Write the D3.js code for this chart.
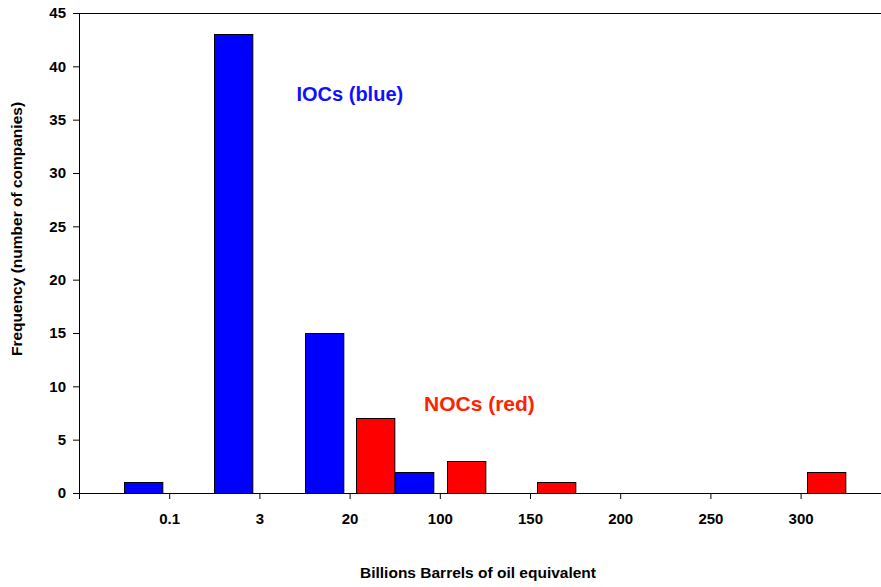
<!DOCTYPE html>
<html>
<head>
<meta charset="utf-8">
<script src="https://cdn.jsdelivr.net/npm/d3@7"></script>
<style>
  html, body { margin: 0; padding: 0; background: #fff; }
  svg { display: block; font-family: "Liberation Sans", Arial, sans-serif; }
</style>
</head>
<body>
<svg id="chart" width="881" height="587"></svg>
<script>
// ---- data ----
const bins = ["<0.1", "0.1-3", "3-20", "20-100", "100-150", "150-200", "200-250", "250-300", ">300"];
const tickLabels = ["0.1", "3", "20", "100", "150", "200", "250", "300"];
const seriesNames = ["NOCs", "IOCs"];
const nocValues = [0, 0, 0, 7, 3, 1, 0, 0, 2];
const iocValues = [1, 43, 15, 2, 0, 0, 0, 0, 0];
const yTickValues = [0, 5, 10, 15, 20, 25, 30, 35, 40, 45];
const xTitle = "Billions Barrels of oil equivalent";
const yTitle = "Frequency (number of companies)";

// ---- layout ----
const svg = d3.select("#chart");
const plotL = 79, plotT = 13, plotR = 890.8, plotB = 493;

const x0 = d3.scaleBand().domain(bins).range([plotL, plotR]).padding(0);
const x1 = d3.scaleBand().domain(seriesNames).range([0, x0.bandwidth()])
  .paddingInner(0).paddingOuter(0.177);
const y = d3.scaleLinear().domain([0, 45]).range([plotB, plotT]);
const colors = { NOCs: "#ff0000", IOCs: "#0000ff" };

// frame (top and right)
svg.append("path")
  .attr("d", `M${plotL},${plotT + 0.5}H${plotR}V${plotB}`)
  .attr("fill", "none").attr("stroke", "#000").attr("stroke-width", 1);

// bars
const rows = [];
bins.forEach((b, i) => {
  rows.push({ bin: b, s: "NOCs", v: nocValues[i] });
  rows.push({ bin: b, s: "IOCs", v: iocValues[i] });
});
svg.append("g").selectAll("rect")
  .data(rows.filter(d => d.v > 0))
  .join("rect")
  .attr("x", d => Math.round(x0(d.bin) + x1(d.s)) + 0.5)
  .attr("y", d => Math.round(y(d.v)) + 0.5)
  .attr("width", x1.bandwidth())
  .attr("height", d => y(0) - Math.round(y(d.v)))
  .attr("fill", d => colors[d.s])
  .attr("stroke", "#000")
  .attr("stroke-width", 1);

// y axis
const yAxis = svg.append("g").attr("transform", `translate(${plotL},0)`)
  .call(d3.axisLeft(y).tickValues(yTickValues).tickSize(6).tickSizeOuter(0).tickPadding(7));
yAxis.selectAll("text").attr("font-size", 15).attr("font-weight", "bold")
  .attr("font-family", "Liberation Sans, Arial, sans-serif").attr("fill", "#000");
yAxis.selectAll("line, path").attr("stroke", "#000");

// x axis (ticks at bin boundaries)
const boundaries = d3.range(bins.length + 1);
const xb = d3.scalePoint().domain(boundaries).range([plotL, plotR]);
const xAxis = svg.append("g").attr("transform", `translate(0,${plotB})`)
  .call(d3.axisBottom(xb).tickSize(6).tickSizeOuter(0).tickPadding(14)
    .tickFormat(i => (i >= 1 && i <= tickLabels.length) ? tickLabels[i - 1] : ""));
xAxis.selectAll("text").attr("font-size", 15).attr("font-weight", "bold")
  .attr("font-family", "Liberation Sans, Arial, sans-serif").attr("fill", "#000");
xAxis.selectAll("line, path").attr("stroke", "#000");

// axis titles
svg.append("text")
  .attr("x", 478).attr("y", 578)
  .attr("text-anchor", "middle")
  .attr("font-size", 15.5).attr("font-weight", "bold")
  .text(xTitle);
svg.append("text")
  .attr("transform", "translate(22,229) rotate(-90)")
  .attr("text-anchor", "middle")
  .attr("font-size", 15.5).attr("font-weight", "bold")
  .text(yTitle);

// annotations
svg.append("text")
  .attr("x", 296.5).attr("y", 101)
  .attr("font-size", 20).attr("font-weight", "bold")
  .attr("fill", "#1010ff")
  .text("IOCs (blue)");
svg.append("text")
  .attr("x", 424).attr("y", 411)
  .attr("font-size", 21).attr("font-weight", "bold")
  .attr("fill", "#ff2200")
  .text("NOCs (red)");
</script>
</body>
</html>
